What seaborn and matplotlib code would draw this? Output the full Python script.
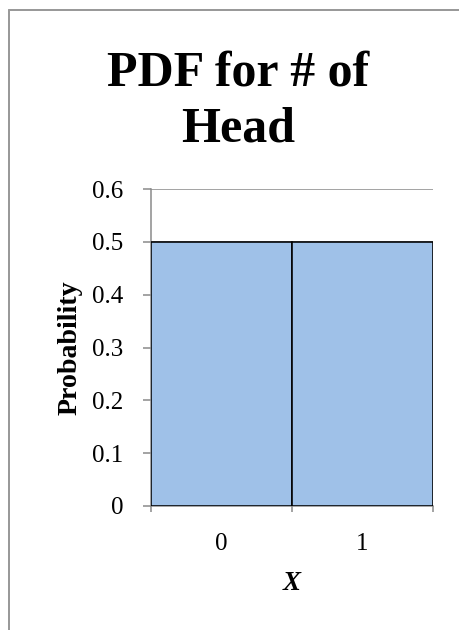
import matplotlib
matplotlib.use("Agg")
import matplotlib.pyplot as plt
from matplotlib.lines import Line2D
from matplotlib.ticker import FixedLocator
import seaborn as sns
import pandas as pd

# Probability mass function for the number of heads in one coin toss
outcomes = ["0", "1"]
probabilities = [0.5, 0.5]
y_ticks = [0, 0.1, 0.2, 0.3, 0.4, 0.5, 0.6]
y_tick_labels = ["0", "0.1", "0.2", "0.3", "0.4", "0.5", "0.6"]

df = pd.DataFrame({"X": outcomes, "Probability": probabilities})

sns.set_theme(style="white")
plt.rcParams["font.family"] = ["Liberation Serif", "DejaVu Serif"]
plt.rcParams["text.color"] = "black"
plt.rcParams["axes.labelcolor"] = "black"
plt.rcParams["xtick.color"] = "black"
plt.rcParams["ytick.color"] = "black"

DPI = 72
fig = plt.figure(figsize=(459 / DPI, 630 / DPI), dpi=DPI)
ax = fig.add_axes([150.7 / 459, 124 / 630, 282 / 459, 317 / 630])

grey = "#888888"
sns.barplot(data=df, x="X", y="Probability", ax=ax, width=1.0,
            color="#9fc1e8", saturation=1, edgecolor="black", linewidth=1.6,
            zorder=3)

ax.set_xlim(-0.5, 1.5)
ax.set_ylim(0, 0.6)
ax.set_yticks(y_ticks)
ax.set_yticklabels(y_tick_labels)
ax.yaxis.grid(True, color=grey, linewidth=1.5, zorder=0)
ax.set_axisbelow(True)

for side in ("top", "right"):
    ax.spines[side].set_visible(False)
for side in ("left", "bottom"):
    ax.spines[side].set_color(grey)
    ax.spines[side].set_linewidth(1.5)

ax.tick_params(axis="y", which="major", direction="out", length=8, width=1.5,
               color=grey, labelcolor="black", pad=19, labelsize=25, left=True)
ax.tick_params(axis="x", which="major", length=0, pad=27, labelsize=25,
               labelcolor="black")
ax.xaxis.set_minor_locator(FixedLocator([-0.5, 0.5, 1.5]))
ax.tick_params(axis="x", which="minor", direction="out", length=6, width=1.5,
               color=grey, bottom=True)

ax.set_xlabel("X", fontsize=27, fontweight="bold", fontstyle="italic", labelpad=16)
ax.set_ylabel("Probability", fontsize=28, fontweight="bold", labelpad=10)

fig.text(238 / 459, 1 - 50 / 630, "PDF for # of\nHead", ha="center", va="top",
         fontsize=50, fontweight="bold", linespacing=1.3, multialignment="center")

# Chart area border (only its top and left edges fall inside the image)
fig.add_artist(Line2D([8.5 / 459, 8.5 / 459], [0, 1 - 9.5 / 630],
                      transform=fig.transFigure, color="#999999", linewidth=2))
fig.add_artist(Line2D([8.5 / 459, 1], [1 - 9.5 / 630, 1 - 9.5 / 630],
                      transform=fig.transFigure, color="#999999", linewidth=2))

fig.savefig("out.png", dpi=DPI, facecolor="white")
